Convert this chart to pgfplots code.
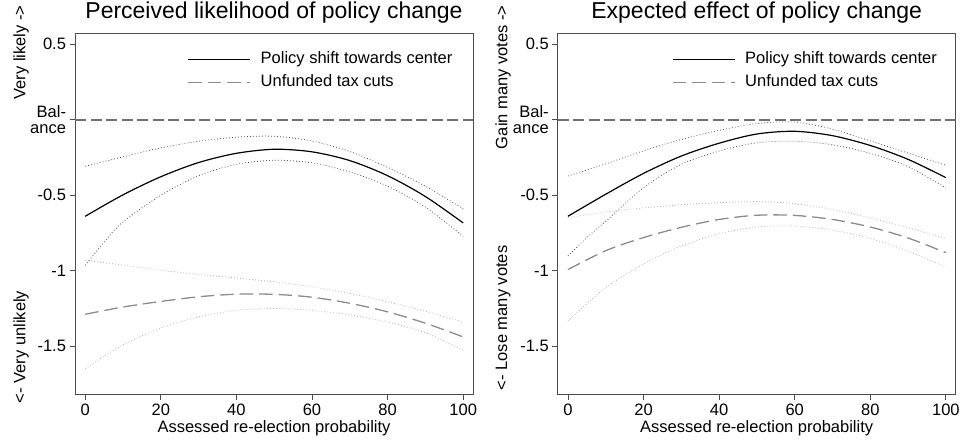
\documentclass[border=0pt]{standalone}
\usepackage{fontspec}
\setmainfont{Liberation Sans}
\usepackage{pgfplots}
\pgfplotsset{compat=1.18}
\newcommand\fs{\fontsize{16.5}{15.5}\selectfont}
\definecolor{balgray}{HTML}{707070}
\definecolor{unfgray}{HTML}{8C8C8C}
\definecolor{ciunf}{HTML}{B0B0B0}
\definecolor{cipol}{HTML}{505050}
\pgfplotsset{
  myaxis/.style={
    scale only axis, width=398pt, height=361pt,
    xmin=-2.7, xmax=102.6, ymin=-1.818, ymax=0.573,
    xtick={0,20,40,60,80,100}, xticklabels={0,20,40,60,80,100},
    ytick={-1.5,-1,-0.5,0,0.5}, yticklabels={-1.5,-1,-0.5,{Bal-\\ance},0.5},
    xtick pos=bottom, ytick pos=left,
    tick align=outside, major tick length=5.5pt,
    axis line style={black!70, line width=0.8pt},
    tick style={black!70, line width=0.8pt},
    tick label style={font=\fs, inner sep=0pt},
    yticklabel style={align=right, xshift=-3.3pt},
    xticklabel style={yshift=-4.3pt},
    xlabel={Assessed re-election probability},
    xlabel style={at={(axis description cs:0.5,0)}, anchor=base, yshift=-38.7pt, font=\fs, inner sep=0pt},
    title style={at={(axis description cs:0.5,1)}, anchor=base, yshift=8.3pt, font=\fontsize{23}{27}\selectfont, inner sep=0pt},
    clip mode=individual,
    legend cell align=left,
    legend image code/.code={\draw[##1] (0pt,0pt) -- (62pt,0pt);},
    legend style={draw=none, fill=none, font=\fs, inner sep=0pt, row sep=7pt,
      nodes={inner sep=0pt, text height=12pt, text depth=4pt},
      /tikz/every odd column/.style={column sep=10pt}},
    pol/.style={black, line width=1.2pt, smooth},
    polci/.style={cipol, line width=0.8pt, dash pattern=on 0.8pt off 2.2pt, smooth},
    unf/.style={unfgray, line width=1.3pt, dash pattern=on 13.5pt off 6pt, smooth},
    unfci/.style={ciunf, line width=0.8pt, dash pattern=on 0.8pt off 2.2pt, smooth},
    bal/.style={balgray, line width=1.5pt, dash pattern=on 11pt off 4.5pt},
  }
}
\begin{document}
\begin{tikzpicture}
\path[use as bounding box] (0,0) rectangle (962pt,442pt);
% ---------------- left panel
\begin{axis}[myaxis, at={(75pt,47.7pt)}, anchor=south west,
  title={Perceived likelihood of policy change},
  legend style={at={(0.282,0.950)}, anchor=north west}]
\addplot[bal, forget plot] coordinates {(-2.7,0) (102.6,0)};
\addplot[polci, forget plot] coordinates {(0,-0.308)(10,-0.245)(20,-0.186)(30,-0.142)(40,-0.115)(50,-0.109)(60,-0.14)(70,-0.21)(80,-0.315)(90,-0.44)(100,-0.59)};
\addplot[polci, forget plot] coordinates {(0,-0.964)(5,-0.81)(10,-0.676)(20,-0.5)(30,-0.37)(40,-0.295)(50,-0.268)(60,-0.285)(70,-0.345)(80,-0.44)(90,-0.578)(100,-0.772)};
\addplot[unfci, forget plot] coordinates {(0,-0.93)(10,-0.962)(20,-0.996)(30,-1.024)(40,-1.048)(50,-1.073)(60,-1.106)(70,-1.15)(80,-1.205)(90,-1.268)(100,-1.339)};
\addplot[unfci, forget plot] coordinates {(0,-1.648)(10,-1.49)(20,-1.38)(30,-1.305)(40,-1.262)(50,-1.25)(60,-1.262)(70,-1.292)(80,-1.34)(90,-1.41)(100,-1.526)};
\addplot[pol] coordinates {(0,-0.639)(10,-0.497)(20,-0.377)(30,-0.283)(40,-0.222)(50,-0.195)(60,-0.212)(70,-0.27)(80,-0.37)(90,-0.508)(100,-0.683)};
\addlegendentry{Policy shift towards center}
\addplot[unf] coordinates {(0,-1.288)(10,-1.24)(20,-1.203)(30,-1.172)(40,-1.155)(50,-1.156)(60,-1.175)(70,-1.215)(80,-1.272)(90,-1.347)(100,-1.438)};
\addlegendentry{Unfunded tax cuts}
\node[rotate=90, anchor=east, font=\fs, inner sep=0pt] at (rel axis cs:-0.1357,1.0776) {Very likely ->};
\node[rotate=90, anchor=west, font=\fs, inner sep=0pt] at (rel axis cs:-0.1357,-0.0249) {<- Very unlikely};
\end{axis}
% ---------------- right panel
\begin{axis}[myaxis, at={(557.7pt,47.7pt)}, anchor=south west,
  title={Expected effect of policy change},
  legend style={at={(0.2865,0.950)}, anchor=north west}]
\addplot[bal, forget plot] coordinates {(-2.7,0) (102.6,0)};
\addplot[polci, forget plot] coordinates {(0,-0.372)(10,-0.292)(20,-0.205)(30,-0.13)(40,-0.07)(50,-0.025)(60,-0.015)(70,-0.062)(80,-0.14)(90,-0.22)(100,-0.301)};
\addplot[polci, forget plot] coordinates {(0,-0.902)(5,-0.78)(10,-0.672)(20,-0.45)(30,-0.295)(40,-0.207)(50,-0.152)(60,-0.142)(70,-0.165)(80,-0.222)(90,-0.31)(100,-0.451)};
\addplot[unfci, forget plot] coordinates {(0,-0.648)(10,-0.611)(20,-0.584)(30,-0.563)(40,-0.549)(50,-0.542)(60,-0.556)(70,-0.594)(80,-0.65)(90,-0.715)(100,-0.787)};
\addplot[unfci, forget plot] coordinates {(0,-1.332)(10,-1.112)(20,-0.955)(30,-0.835)(40,-0.755)(50,-0.71)(60,-0.704)(70,-0.73)(80,-0.785)(90,-0.87)(100,-0.975)};
\addplot[pol] coordinates {(0,-0.639)(10,-0.493)(20,-0.355)(30,-0.24)(40,-0.155)(50,-0.094)(60,-0.076)(70,-0.105)(80,-0.17)(90,-0.262)(100,-0.383)};
\addlegendentry{Policy shift towards center}
\addplot[unf] coordinates {(0,-0.992)(10,-0.867)(20,-0.78)(30,-0.712)(40,-0.66)(50,-0.632)(60,-0.633)(70,-0.66)(80,-0.71)(90,-0.783)(100,-0.88)};
\addlegendentry{Unfunded tax cuts}
\node[rotate=90, anchor=east, font=\fs, inner sep=0pt] at (rel axis cs:-0.137,1.0776) {Gain many votes ->};
\node[rotate=90, anchor=west, font=\fs, inner sep=0pt] at (rel axis cs:-0.137,0.011) {<- Lose many votes};
\end{axis}
\end{tikzpicture}
\end{document}
